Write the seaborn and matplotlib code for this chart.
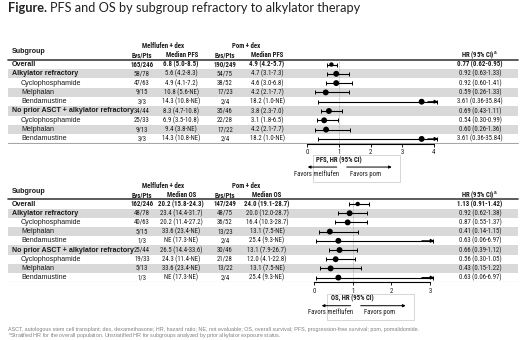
import matplotlib
matplotlib.use('Agg')
import matplotlib.pyplot as plt
import matplotlib.transforms as mtransforms
from matplotlib import font_manager as fm
from matplotlib.patches import Rectangle
import seaborn as sns
import numpy as np
import pandas as pd

sns.set_theme(style='white')
plt.rcParams['font.family'] = ['Liberation Sans', 'DejaVu Sans']
plt.rcParams['mathtext.fontset'] = 'custom'
plt.rcParams['mathtext.rm'] = 'Liberation Sans'
plt.rcParams['mathtext.bf'] = 'Liberation Sans:bold'

W, H = 520, 340

# ---- data ----
subgroups = ['Overall', 'Alkylator refractory', 'Cyclophosphamide', 'Melphalan', 'Bendamustine',
             'No prior ASCT + alkylator refractory', 'Cyclophosphamide', 'Melphalan', 'Bendamustine']
indent = [0, 0, 1, 1, 1, 0, 1, 1, 1]
bold_label = [True, True, False, False, False, True, False, False, False]

pfs_mel_evs = ['165/246', '58/78', '47/63', '9/15', '3/3', '34/44', '25/33', '9/13', '3/3']
pfs_mel_med = ['6.8 (5.0-8.5)', '5.6 (4.2-8.3)', '4.9 (4.1-7.2)', '10.8 (5.6-NE)', '14.3 (10.8-NE)',
               '8.3 (4.7-10.8)', '6.9 (3.5-10.8)', '9.4 (3.8-NE)', '14.3 (10.8-NE)']
pfs_pom_evs = ['190/249', '54/75', '38/52', '17/23', '2/4', '35/46', '22/28', '17/22', '2/4']
pfs_pom_med = ['4.9 (4.2-5.7)', '4.7 (3.1-7.3)', '4.6 (3.0-6.8)', '4.2 (2.1-7.7)', '18.2 (1.0-NE)',
               '3.8 (2.3-7.0)', '3.1 (1.8-6.5)', '4.2 (2.1-7.7)', '18.2 (1.0-NE)']
pfs_hr = [0.77, 0.92, 0.92, 0.59, 3.61, 0.69, 0.54, 0.60, 3.61]
pfs_lo = [0.62, 0.63, 0.60, 0.26, 0.36, 0.43, 0.30, 0.26, 0.36]
pfs_hi = [0.95, 1.33, 1.41, 1.33, 35.84, 1.11, 0.99, 1.36, 35.84]

os_mel_evs = ['162/246', '48/78', '40/63', '5/15', '1/3', '25/44', '19/33', '5/13', '1/3']
os_mel_med = ['20.2 (15.8-24.3)', '23.4 (14.4-31.7)', '20.2 (11.4-27.2)', '33.6 (23.4-NE)', 'NE (17.3-NE)',
              '26.5 (14.4-33.6)', '24.3 (11.4-NE)', '33.6 (23.4-NE)', 'NE (17.3-NE)']
os_pom_evs = ['147/249', '48/75', '36/52', '13/23', '2/4', '30/46', '21/28', '13/22', '2/4']
os_pom_med = ['24.0 (19.1-28.7)', '20.0 (12.0-28.7)', '16.4 (10.3-28.7)', '13.1 (7.5-NE)', '25.4 (9.3-NE)',
              '13.1 (7.9-26.7)', '12.0 (4.1-22.8)', '13.1 (7.5-NE)', '25.4 (9.3-NE)']
os_hr = [1.13, 0.92, 0.87, 0.41, 0.63, 0.66, 0.56, 0.43, 0.63]
os_lo = [0.91, 0.62, 0.55, 0.14, 0.06, 0.39, 0.30, 0.15, 0.06]
os_hi = [1.42, 1.38, 1.37, 1.15, 6.97, 1.12, 1.05, 1.22, 6.97]

TXT = '#1a1a1a'
BAND = '#d9d9d9'
FS = 5.1          # row labels
FN = 4.9          # numeric columns (narrow face)

# pick a narrow face for the number columns if one is installed
narrow = None
for f in fm.fontManager.ttflist:
    if f.name in ('Liberation Sans Narrow', 'Arial Narrow', 'Roboto Condensed'):
        narrow = dict(family=f.name)
        break
if narrow is None:
    for f in fm.fontManager.ttflist:
        if f.name in ('Liberation Sans', 'DejaVu Sans', 'Roboto', 'Open Sans', 'Noto Sans') \
                and str(f.stretch) in ('condensed', 'semi-condensed', '75', '87'):
            narrow = dict(family=f.name, stretch=f.stretch)
            break
if narrow is None:
    narrow = dict(family='Liberation Sans')
    FN = FN * 0.84

fig = plt.figure(figsize=(W / 100, H / 100), dpi=100)
fig.patch.set_facecolor('white')

# title
t1 = fig.text(8 / W, 1 - 8 / H, 'Figure.', fontsize=9.2, weight='bold', va='center',
              family=['Lato', 'DejaVu Sans'], color='#222222')
fig.canvas.draw()
bb = t1.get_window_extent()
fig.text((bb.x1 + 3) / W, 1 - 8 / H, 'PFS and OS by subgroup refractory to alkylator therapy',
         fontsize=9.2, va='center', family=['Lato', 'DejaVu Sans'], color='#222222')


def panel(row0, step, ax0, ppu, xmax, ticks, df, endpoint, axis_label):
    top_r, bot_r = -2.6, 8.5
    top_px = row0 + top_r * step
    bot_px = row0 + bot_r * step
    rect = [0, 1 - bot_px / H, 1, (bot_px - top_px) / H]

    tab = fig.add_axes(rect)
    tab.set_xlim(0, W)
    tab.set_ylim(bot_r, top_r)
    tab.axis('off')

    n = len(df)
    for i in range(n):
        if i % 2 == 1:
            tab.axhspan(i - 0.5, i + 0.5, xmin=8 / W, xmax=518 / W, color=BAND, lw=0, zorder=0)
    tab.axhline(-0.5, xmin=8 / W, xmax=518 / W, color='#404040', lw=1.2)
    tab.axhline(bot_r - 0.02, xmin=8 / W, xmax=518 / W, color='#a6a6a6', lw=0.8)

    hn = dict(fontsize=FN, weight='bold', color=TXT, va='center', ha='center', **narrow)
    tab.text(163, -1.95, 'Melflufen + dex', **hn)
    tab.text(246, -1.95, 'Pom + dex', **hn)
    tab.text(12, -1.4, 'Subgroup', ha='left', fontsize=FS, weight='bold', color=TXT, va='center')
    tab.text(142, -0.97, 'Evs/Pts', **hn)
    tab.text(182, -0.97, f'Median {endpoint}', **hn)
    tab.text(225, -0.97, 'Evs/Pts', **hn)
    tab.text(267, -0.97, f'Median {endpoint}', **hn)
    tab.text(479, -0.97, r'HR (95% CI)$^{\mathbf{a}}$', **hn)

    for i, r in df.iterrows():
        wt = 'bold' if i == 0 else 'normal'
        lw = 'bold' if r['bold'] else 'normal'
        x_lab = 21 if r['indent'] else 12
        tab.text(x_lab, i, r['subgroup'], ha='left', weight=lw, fontsize=FS, color=TXT, va='center')
        kw = dict(fontsize=FN, color=TXT, va='center', ha='center', weight=wt, **narrow)
        tab.text(142, i, r['mel_evs'], **kw)
        tab.text(181, i, r['mel_med'], **kw)
        tab.text(225, i, r['pom_evs'], **kw)
        tab.text(267, i, r['pom_med'], **kw)
        tab.text(480, i, f"{r['hr']:.2f} ({r['lo']:.2f}-{r['hi']:.2f})", **kw)

    # forest
    fa = fig.add_axes([ax0 / W, rect[1], xmax * ppu / W, rect[3]])
    fa.set_facecolor('none')
    fa.set_xlim(0, xmax)
    fa.set_ylim(bot_r, top_r)
    for s in ['top', 'left', 'right']:
        fa.spines[s].set_visible(False)
    fa.spines['bottom'].set_bounds(ticks[0], ticks[-1])
    fa.spines['bottom'].set_color('black')
    fa.spines['bottom'].set_linewidth(0.8)
    fa.set_xticks(ticks)
    fa.set_xticklabels([str(t) for t in ticks], **narrow)
    fa.set_yticks([])
    fa.tick_params(axis='x', labelsize=FN, length=2.5, width=0.7, pad=1.5, colors=TXT,
                   bottom=True, direction='out')
    fa.vlines(1, -0.45, bot_r, color='#9a9a9a', lw=0.5, ls=(0, (1, 1)), zorder=1)

    end = xmax - 0.01
    hi_draw = np.minimum(df['hi'].values, end)
    rows = np.arange(n)
    fa.errorbar(df['hr'], rows, xerr=[df['hr'] - df['lo'], hi_draw - df['hr']], fmt='none',
                ecolor='black', elinewidth=0.8, capsize=1.4, capthick=0.7, zorder=3)
    clipped = df['hi'].values > end
    for i in rows[clipped]:
        fa.annotate('', xy=(end + 0.02, i), xytext=(end - 0.3, i),
                    arrowprops=dict(arrowstyle='-|>', color='black', lw=0.8, mutation_scale=5,
                                    shrinkA=0, shrinkB=0), annotation_clip=False)
    sizes = np.where(rows == 0, 10, 18)
    sns.scatterplot(x=df['hr'], y=rows, ax=fa, color='black', s=sizes, edgecolor='none',
                    legend=False, zorder=4)
    fa.set_xlabel('')
    fa.set_ylabel('')

    # legend box below the axis
    tr = mtransforms.blended_transform_factory(fa.transData, fig.transFigure)
    y_lab = 1 - (bot_px + 16.5) / H
    y_arr = 1 - (bot_px + 23.5) / H
    y_fav = 1 - (bot_px + 30.5) / H
    bx0 = 1 - 25.5 / ppu
    bx1 = 1 + 61 / ppu
    fa.add_patch(Rectangle((bx0, 1 - (bot_px + 38) / H), bx1 - bx0, 26.5 / H,
                           transform=tr, fill=False, ec='#d0d0d0', lw=0.6, clip_on=False))
    fa.text(1, y_lab, axis_label, transform=tr, ha='center', va='center', fontsize=FN,
            weight='bold', color=TXT, **narrow)
    fa.annotate('', xy=(1 - 31 / ppu, y_arr), xytext=(1 - 2 / ppu, y_arr), xycoords=tr, textcoords=tr,
                arrowprops=dict(arrowstyle='-|>', color='black', lw=0.7, mutation_scale=4,
                                shrinkA=0, shrinkB=0), annotation_clip=False)
    fa.annotate('', xy=(1 + 53 / ppu, y_arr), xytext=(1 + 8 / ppu, y_arr), xycoords=tr, textcoords=tr,
                arrowprops=dict(arrowstyle='-|>', color='black', lw=0.7, mutation_scale=4,
                                shrinkA=0, shrinkB=0), annotation_clip=False)
    fa.text(1 - 22 / ppu, y_fav, 'Favors melflufen', transform=tr, ha='center', va='center',
            fontsize=FN, color=TXT, **narrow)
    fa.text(1 + 27 / ppu, y_fav, 'Favors pom', transform=tr, ha='center', va='center',
            fontsize=FN, color=TXT, **narrow)


pfs_df = pd.DataFrame({'subgroup': subgroups, 'indent': indent, 'bold': bold_label,
                       'mel_evs': pfs_mel_evs, 'mel_med': pfs_mel_med,
                       'pom_evs': pfs_pom_evs, 'pom_med': pfs_pom_med,
                       'hr': pfs_hr, 'lo': pfs_lo, 'hi': pfs_hi})
os_df = pd.DataFrame({'subgroup': subgroups, 'indent': indent, 'bold': bold_label,
                      'mel_evs': os_mel_evs, 'mel_med': os_mel_med,
                      'pom_evs': os_pom_evs, 'pom_med': os_pom_med,
                      'hr': os_hr, 'lo': os_lo, 'hi': os_hi})

panel(64.5, 9.3, 307, 31.75, 4.12, [0, 1, 2, 3, 4], pfs_df, 'PFS', 'PFS, HR (95% CI)')
panel(204, 9.2, 314, 38.67, 3.1, [0, 1, 2, 3], os_df, 'OS', 'OS, HR (95% CI)')

fn = dict(fontsize=3.85, color='#808080', va='center', ha='left')
fig.text(8 / W, 1 - 330 / H, 'ASCT, autologous stem cell transplant; dex, dexamethasone; HR, hazard ratio; '
         'NE, not evaluable; OS, overall survival; PFS, progression-free survival; pom, pomalidomide.', **fn)
fig.text(8 / W, 1 - 336 / H, r'$^{\mathrm{a}}$Stratified HR for the overall population. Unstratified HR for '
         'subgroups analyzed by prior alkylator exposure status.', **fn)

fig.savefig('out.png', dpi=100)
